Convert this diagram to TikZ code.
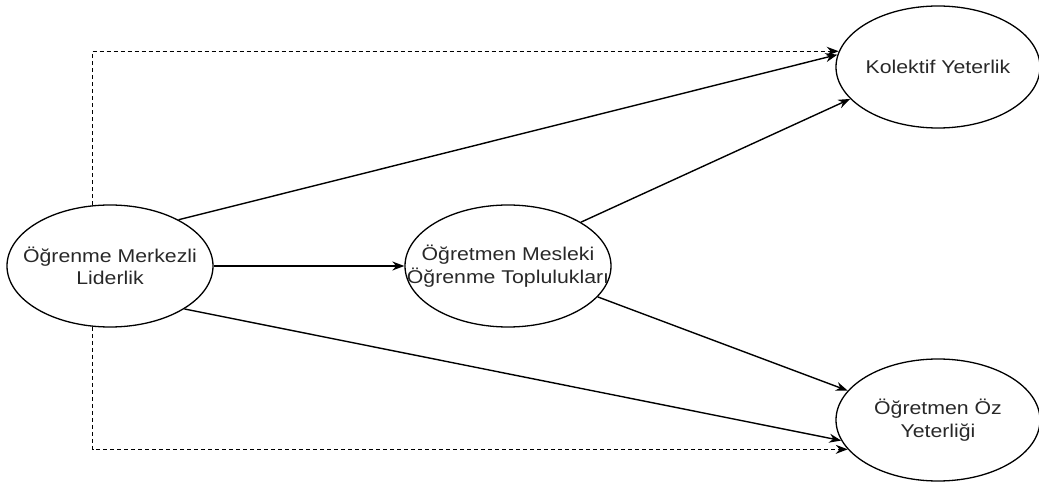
\documentclass[tikz,border=0pt]{standalone}
\usepackage{fontspec}
\setmainfont{Liberation Sans}[FakeStretch=1.15]
\usetikzlibrary{shapes.geometric,arrows.meta}
\definecolor{txt}{RGB}{40,40,40}
\begin{document}
\begin{tikzpicture}[x=1pt,y=-1pt,
  oval/.style={ellipse,draw=black,line width=1.3pt,inner sep=0pt,
    minimum width=206pt,minimum height=122pt},
  every label/.style={align=center,font=\fontsize{18.5pt}{22.5pt}\selectfont,text=txt,inner sep=0pt},
  link/.style={draw=black,line width=1.4pt,-{Stealth[length=12pt,width=9pt]}},
  dlink/.style={link,dash pattern=on 4pt off 3pt}]
\useasboundingbox (0,0) rectangle (1039,486);
\node[oval,label={center:Öğrenme Merkezli\\Liderlik}] (L) at (110,266) {};
\node[oval,label={center:Öğretmen Mesleki\\Öğrenme Toplulukları}] (M) at (508,266) {};
\node[oval,minimum width=204pt,label={center:Kolektif Yeterlik}] (K) at (938,67) {};
\node[oval,minimum width=204pt,label={center:Öğretmen Öz\\Yeterliği}] (O) at (938,420) {};
\draw[link] (L.34) -- (K.173);
\draw[link] (M.31) -- (K.200);
\draw[link] (L.east) -- (M.west);
\draw[link] (M.-19) -- (O.162);
\draw[link] (L.-30) -- (O.192);
\draw[dlink] (L.106) |- (K.171);
\draw[dlink] (L.254) |- (O.198);
\end{tikzpicture}
\end{document}
